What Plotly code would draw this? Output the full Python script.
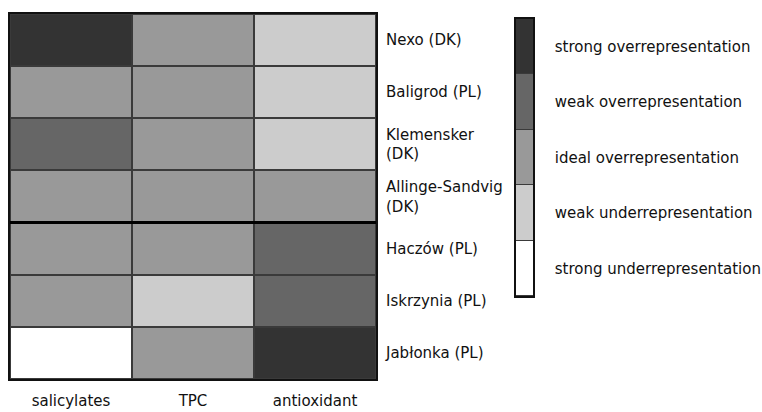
import plotly.graph_objects as go

# Representation levels: 1 = strong under ... 5 = strong over
sites = ["Nexo (DK)", "Baligrod (PL)", "Klemensker<br>(DK)", "Allinge-Sandvig<br>(DK)",
         "Haczów (PL)", "Iskrzynia (PL)", "Jabłonka (PL)"]
measures = ["salicylates", "TPC", "antioxidant"]
salicylates = [5, 3, 4, 3, 3, 3, 1]
tpc = [3, 3, 3, 3, 3, 2, 3]
antioxidant = [2, 2, 2, 3, 4, 4, 5]

level_names = ["strong underrepresentation", "weak underrepresentation",
               "ideal overrepresentation", "weak overrepresentation",
               "strong overrepresentation"]
level_values = [1, 2, 3, 4, 5]
level_colors = ["#ffffff", "#cccccc", "#999999", "#666666", "#333333"]

scale = [[i / 4, c] for i, c in enumerate(level_colors)]
z = [[s, t, a] for s, t, a in zip(salicylates, tpc, antioxidant)]

FONT = "DejaVu Sans"
fig = go.Figure()

fig.add_trace(go.Heatmap(
    z=z, x=measures, y=sites, colorscale=scale, zmin=1, zmax=5,
    showscale=False, xgap=2, ygap=2, hoverinfo="skip",
    xaxis="x", yaxis="y"))

# Legend key as its own single-column heatmap
fig.add_trace(go.Heatmap(
    z=[[v] for v in level_values], x=["key"], y=level_names,
    colorscale=scale, zmin=1, zmax=5, showscale=False,
    xgap=0, ygap=1, hoverinfo="skip", xaxis="x2", yaxis="y2"))

W, H = 762, 412
ml, mr, mt, mb = 10, 0, 14, 33
pw, ph = W - ml - mr, H - mt - mb

def px_x(a, b):
    return [(a - ml) / pw, (b - ml) / pw]

def px_y(top, bottom):
    return [(H - mb - bottom) / ph, (H - mb - top) / ph]

fig.update_layout(
    width=W, height=H,
    margin=dict(l=ml, r=mr, t=mt, b=mb, autoexpand=False),
    paper_bgcolor="white", plot_bgcolor="#3a3a3a",
    font=dict(family=FONT, size=15, color="#111111"),
    xaxis=dict(domain=px_x(10, 376), showgrid=False, zeroline=False,
               ticks="outside", ticklen=7, tickcolor="rgba(0,0,0,0)",
               showline=True, linecolor="#111111", linewidth=2, mirror=True,
               fixedrange=True, automargin=False),
    yaxis=dict(domain=px_y(14, 379), autorange="reversed", side="right",
               showgrid=False, zeroline=False,
               ticks="outside", ticklen=5, tickcolor="rgba(0,0,0,0)",
               showline=True, linecolor="#111111", linewidth=2, mirror=True,
               fixedrange=True, automargin=False),
    xaxis2=dict(domain=px_x(516, 533), anchor="y2", showticklabels=False,
                showgrid=False, zeroline=False, ticks="",
                showline=True, linecolor="#111111", linewidth=1.5, mirror=True,
                fixedrange=True, automargin=False),
    yaxis2=dict(domain=px_y(19, 296), anchor="x2", side="right",
                showgrid=False, zeroline=False,
                ticks="outside", ticklen=17, tickcolor="rgba(0,0,0,0)",
                showline=True, linecolor="#111111", linewidth=1.5, mirror=True,
                fixedrange=True, automargin=False),
)

# Heavier divider between the Danish group and the remaining sites
fig.add_shape(type="line", xref="x domain", yref="y", x0=0, x1=1,
              y0=3.5, y1=3.5, line=dict(color="#000000", width=3))

fig.write_html("out.html")
